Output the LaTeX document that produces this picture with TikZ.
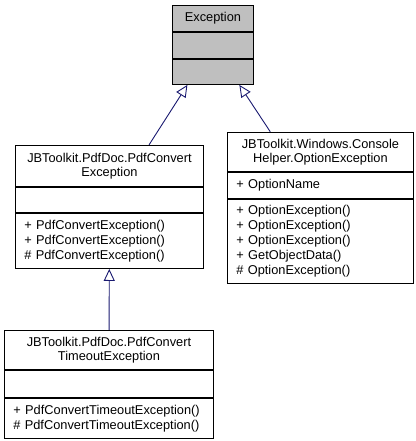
\documentclass[tikz,border=0pt]{standalone}
\usepackage{fontspec}
\setmainfont{Liberation Sans}
\usetikzlibrary{positioning,fit,arrows.meta}

\definecolor{excgray}{HTML}{BFBFBF}
\definecolor{inheritblue}{HTML}{191970}

\tikzset{
  classtitle/.style={draw=black, fill=white, anchor=north west, align=center,
    inner sep=0pt, line width=0.9pt, font=\fontsize{12.8}{14.5}\selectfont},
  classpart/.style={draw=black, fill=white, below=0pt of #1, align=left,
    inner xsep=9pt, inner ysep=0pt, line width=0.9pt, font=\fontsize{12.8}{15}\selectfont},
  inherit/.style={draw=inheritblue, line width=0.9pt,
    -{Triangle[open,length=12pt,width=11pt,fill=white]}}
}

\begin{document}
\begin{tikzpicture}[x=1pt,y=-1pt]
\useasboundingbox (0,0) rectangle (415,441);

% Exception
\node[classtitle, fill=excgray, text width=81pt, minimum height=26pt] (exc) at (172,5) {Exception};
\node[classpart=exc, fill=excgray, text width=63pt, minimum height=26pt] (excattr) {};
\node[classpart=excattr, fill=excgray, text width=63pt, minimum height=25pt] (excops) {};
\node[fit=(exc)(excops), inner sep=0pt] (excbox) {};

% PdfConvertException
\node[classtitle, text width=188pt, minimum height=41pt] (pdf) at (15,145) {JBToolkit.PdfDoc.PdfConvert\\Exception};
\node[classpart=pdf, text width=170pt, minimum height=25pt] (pdfattr) {};
\node[classpart=pdfattr, text width=170pt, minimum height=55pt] (pdfops)
  {+~PdfConvertException()\\+~PdfConvertException()\\\#~PdfConvertException()};
\node[fit=(pdf)(pdfops), inner sep=0pt] (pdfbox) {};

% OptionException
\node[classtitle, text width=186pt, minimum height=39pt] (opt) at (227,132) {JBToolkit.Windows.Console\\Helper.OptionException};
\node[classpart=opt, text width=168pt, minimum height=26pt] (optattr) {+~OptionName};
\node[classpart=optattr, text width=168pt, minimum height=84pt] (optops)
  {+~OptionException()\\+~OptionException()\\+~OptionException()\\+~GetObjectData()\\\#~OptionException()};
\node[fit=(opt)(optops), inner sep=0pt] (optbox) {};

% PdfConvertTimeoutException
\node[classtitle, text width=209pt, minimum height=39pt] (tmo) at (4,330) {JBToolkit.PdfDoc.PdfConvert\\TimeoutException};
\node[classpart=tmo, text width=191pt, minimum height=27pt] (tmoattr) {};
\node[classpart=tmoattr, text width=191pt, minimum height=40pt] (tmoops)
  {+~PdfConvertTimeoutException()\\\#~PdfConvertTimeoutException()};
\node[fit=(tmo)(tmoops), inner sep=0pt] (tmobox) {};

% inheritance
\draw[inherit] (pdfbox) -- (excbox);
\draw[inherit] (optbox) -- (excbox);
\draw[inherit] (tmobox) -- (pdfbox);
\end{tikzpicture}
\end{document}
